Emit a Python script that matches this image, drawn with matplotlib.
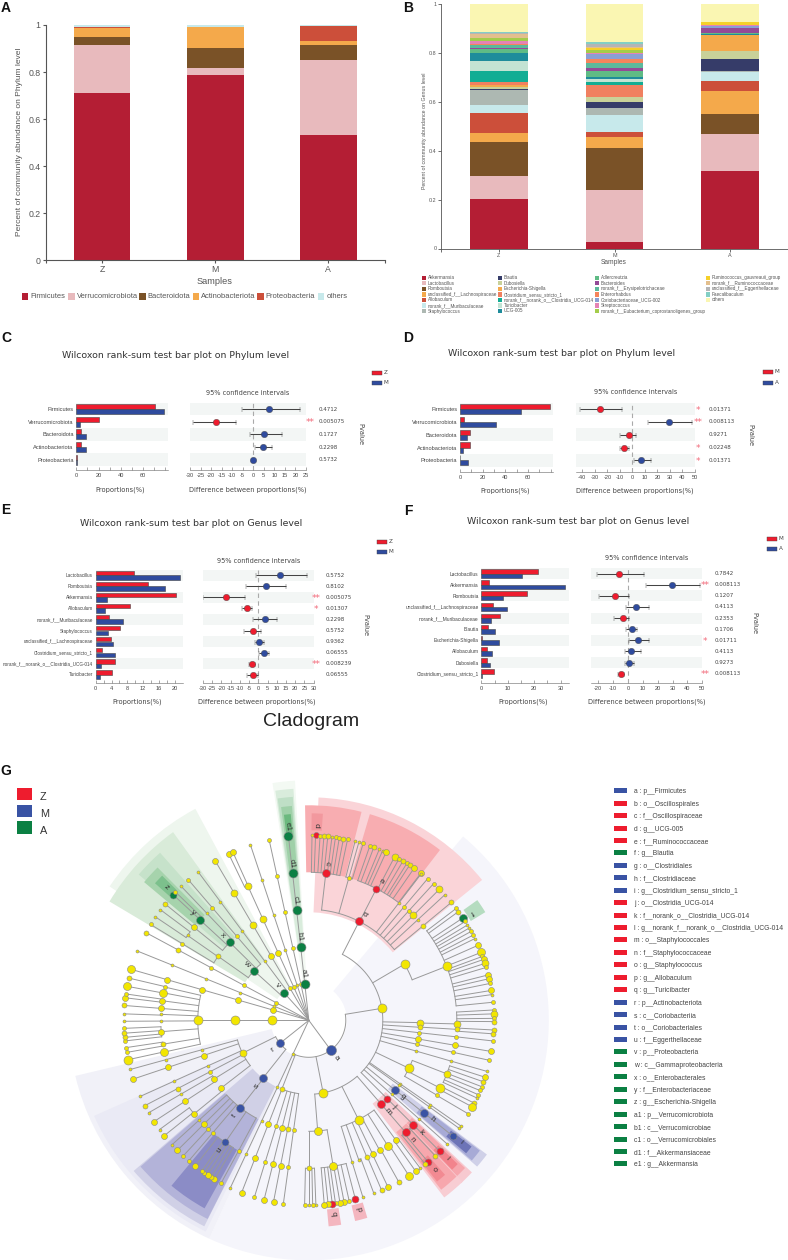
import numpy as np
import matplotlib
matplotlib.use("Agg")
import matplotlib.pyplot as plt
from matplotlib.patches import Rectangle, Wedge

plt.rcParams["font.family"] = ["Liberation Sans", "DejaVu Sans"]

W, H = 788, 1260
GREY = "#555555"

# panel A
samples = ["Z", "M", "A"]
phyla = ["Firmicutes", "Verrucomicrobiota", "Bacteroidota", "Actinobacteriota", "Proteobacteria", "others"]
phyla_colors = ["#b41e34", "#e8babd", "#7a5227", "#f4a94b", "#cc4f3a", "#c7e9eb"]
phyla_z = [0.712, 0.203, 0.036, 0.038, 0.001, 0.010]
phyla_m = [0.787, 0.029, 0.088, 0.086, 0.000, 0.010]
phyla_a = [0.534, 0.319, 0.061, 0.016, 0.064, 0.006]

# panel B
genera = ["Akkermansia", "Lactobacillus", "Romboutsia", "unclassified_f__Lachnospiraceae", "Allobaculum",
          "norank_f__Muribaculaceae", "Staphylococcus",
          "Blautia", "Dubosiella", "Escherichia-Shigella", "Clostridium_sensu_stricto_1",
          "norank_f__norank_o__Clostridia_UCG-014", "Turicibacter", "UCG-005",
          "Adlercreutzia", "Bacteroides", "norank_f__Erysipelotrichaceae", "Enterorhabdus",
          "Coriobacteriaceae_UCG-002", "Streptococcus", "norank_f__Eubacterium_coprostanoligenes_group",
          "Ruminococcus_gauvreauii_group", "norank_f__Ruminococcaceae", "unclassified_f__Eggerthellaceae",
          "Faecalibaculum", "others"]
genera_colors = ["#b41e34", "#e8babd", "#7a5227", "#f4a94b", "#cc4f3a", "#c7e9eb", "#adb8b2",
                 "#363c69", "#c9d199", "#f4a94b", "#f08060", "#12ad94", "#c3e3d3", "#1e8c9b",
                 "#5fbb85", "#944a97", "#5cb99c", "#f5845c", "#8a9fd4", "#e583b5", "#a4cc4a",
                 "#f5d02a", "#e3bf8d", "#b5b5b5", "#83cfc5", "#faf6b2"]
genera_top_z = [.204, .298, .434, .471, .556, .587, .649, .654, .662, .668, .680, .727, .768, .800,
                .817, .820, .832, .835, .838, .850, .860, .862, .878, .880, .885, 1.0]
genera_top_m = [.028, .240, .412, .455, .477, .544, .573, .600, .620, .620, .668, .680, .693, .703,
                .725, .740, .757, .775, .795, .800, .810, .820, .825, .835, .845, 1.0]
genera_top_a = [.319, .470, .550, .646, .686, .722, .724, .775, .807, .872, .872, .873, .874, .876,
                .880, .900, .902, .903, .908, .913, .916, .926, .927, .927, .928, 1.0]

# panel C
c_names = ["Firmicutes", "Verrucomicrobiota", "Bacteroidota", "Actinobacteriota", "Proteobacteria"]
c_red = [71, 20.8, 4, 3.8, 0.3]
c_blue = [79, 3, 9, 8.8, 0.3]
c_diff = [7.5, -17.7, 5.3, 4.7, 0]
c_low = [-5.5, -28.5, -1.5, 0.8, -0.4]
c_high = [22, -8, 13.5, 8.7, 0.4]
c_p = ["0.4712", "0.005075", "0.1727", "0.2298", "0.5732"]
c_stars = ["", "**", "", "", ""]

# panel D
d_names = c_names
d_red = [79, 3.3, 9, 8.5, 0.3]
d_blue = [54, 32, 6.5, 2.5, 6.8]
d_diff = [-25.5, 29, -2.7, -6.8, 6.7]
d_low = [-42, 12.5, -10, -10, 1]
d_high = [-8.5, 48, 3.2, -3, 14.5]
d_p = ["0.01371", "0.008113", "0.9271", "0.02248", "0.01371"]
d_stars = ["*", "**", "", "*", "*"]

# panel E
e_names = ["Lactobacillus", "Romboutsia", "Akkermansia", "Allobaculum", "norank_f__Muribaculaceae",
           "Staphylococcus", "unclassified_f__Lachnospiraceae", "Clostridium_sensu_stricto_1",
           "norank_f__norank_o__Clostridia_UCG-014", "Turicibacter"]
e_red = [9.7, 13.3, 20.4, 8.7, 3.3, 6.2, 3.9, 1.5, 4.9, 4.1]
e_blue = [21.2, 17.4, 2.9, 2.3, 6.8, 3.1, 4.4, 4.9, 1.3, 1.1]
e_diff = [11.7, 3.9, -17.8, -6.3, 3.5, -3, 0.5, 3.3, -3.5, -3]
e_low = [-1.5, -6.5, -30, -9, -2.8, -8, -2, 0.5, -5, -6]
e_high = [26.3, 15, -7.5, -3.2, 10.3, 1.5, 3.2, 6, -2, -0.2]
e_p = ["0.5752", "0.8102", "0.005075", "0.01307", "0.2298", "0.5752", "0.9362", "0.06555", "0.008239", "0.06555"]
e_stars = ["", "", "**", "*", "", "", "", "", "**", ""]

# panel F
f_names = ["Lactobacillus", "Akkermansia", "Romboutsia", "unclassified_f__Lachnospiraceae",
           "norank_f__Muribaculaceae", "Blautia", "Escherichia-Shigella", "Allobaculum", "Dubosiella",
           "Clostridium_sensu_stricto_1"]
f_red = [21.3, 2.9, 17.2, 4.4, 6.9, 2.5, 0.2, 2.3, 2.3, 4.8]
f_blue = [15.3, 31.8, 8.1, 9.7, 3.5, 5.3, 6.6, 4.1, 3.3, 0.3]
f_diff = [-6, 29.5, -9, 5.3, -3, 2.8, 6.5, 1.8, 1, -4.5]
f_low = [-21, 12, -19.5, -1.5, -9.5, -1, 0.8, -2, -2, -6.5]
f_high = [10.5, 48.5, 1, 14.5, 1, 6, 14.5, 8.5, 4.3, -2.5]
f_p = ["0.7842", "0.008113", "0.1207", "0.4113", "0.2353", "0.1706", "0.01711", "0.4113", "0.9273", "0.008113"]
f_stars = ["", "**", "", "", "", "", "*", "", "", "**"]

# panel G legend
clade_names = ["a : p__Firmicutes", "b : o__Oscillospirales", "c : f__Oscillospiraceae", "d : g__UCG-005",
               "e : f__Ruminococcaceae", "f : g__Blautia", "g : o__Clostridiales", "h : f__Clostridiaceae",
               "i : g__Clostridium_sensu_stricto_1", "j : o__Clostridia_UCG-014",
               "k : f__norank_o__Clostridia_UCG-014", "l : g__norank_f__norank_o__Clostridia_UCG-014",
               "m : o__Staphylococcales", "n : f__Staphylococcaceae", "o : g__Staphylococcus",
               "p : g__Allobaculum", "q : g__Turicibacter", "r : p__Actinobacteriota", "s : c__Coriobacteriia",
               "t : o__Coriobacteriales", "u : f__Eggerthellaceae", "v : p__Proteobacteria",
               "w : c__Gammaproteobacteria", "x : o__Enterobacterales", "y : f__Enterobacteriaceae",
               "z : g__Escherichia-Shigella", "a1 : p__Verrucomicrobiota", "b1 : c__Verrucomicrobiae",
               "c1 : o__Verrucomicrobiales", "d1 : f__Akkermansiaceae", "e1 : g__Akkermansia"]
clade_groups = "MZZZZAMMMZZZZZZZZMMMMAAAAAAAAAA"
RED, BLUE, GREEN = "#ee1c2e", "#3953a4", "#0b8043"
group_colors = {"Z": RED, "M": BLUE, "A": GREEN, "y": "#f2e600"}

# cladogram shading: start angle, end angle, inner radius, outer radius, colour
shade_start = [40, 204.5, 206, 206.9, 207, 209, 303.9, 300.8, 310.6, 310, 311.7, 351.3, 351.7, 352, 352.6, 353.1,
               2.5, -1, 16.5, 0.8, 127, 127.3, 127.8, 133, 133.4, 134, 136.4, 136.6, 138.6, 163.5, 171, 54.5]
shade_end = [204.5, 256.6, 246, 229.3, 229, 219.7, 331.8, 324.2, 318.4, 315.3, 314.6, 356.7, 356.2, 355.9, 355.5, 355,
             51, 14.2, 37.6, 3.9, 131, 130.7, 130.2, 137, 136.6, 136.2, 142.6, 142, 141.5, 167, 174.5, 58.5]
shade_inner = [38, 38, 74, 74, 111, 148, 38, 74, 111, 148, 186, 37, 74, 111, 148, 185,
               108, 148, 148, 190, 105, 142, 180, 105, 142, 180, 105, 142, 180, 190, 190, 190]
shade_outer = [240, 240, 235, 231, 223, 215, 240, 232, 224, 215, 206, 240, 232, 224, 215, 207,
               223, 215, 215, 207, 223, 215, 206, 223, 215, 207, 223, 215, 206, 206, 207, 207]
shade_color = ["#f5f5fb", "#f1f1f8", "#eaeaf5", "#d0d0e6", "#b3b3d9", "#8b8cc6",
               "#eef6ee", "#d9ebd9", "#c6e2ca", "#a6d3ac", "#7cc08c",
               "#f3f9f3", "#d9ecdc", "#bfdfc6", "#9fd0a8", "#6bb97e",
               "#fad4d8", "#f8adb1", "#f8adb1", "#f2989e",
               "#cfd0e8", "#a7aad6", "#6d74b7",
               "#f7c9d0", "#f6a6ad", "#f2838c", "#f8cdd3", "#f7a7ad", "#f28a92",
               "#f4b6bf", "#f4b6bf", "#b5dcc0"]


def N(angle, size, group="y", label=None, kids=()):
    return {"angle": angle, "size": size, "group": group, "label": label, "kids": list(kids)}


def L(*pairs):
    return [N(a, s) for a, s in pairs]


def chain(angle, sizes, group="y", labels=None, kids=()):
    # a run of nodes out along one angle
    node_kids = list(kids)
    for i in range(len(sizes) - 1, -1, -1):
        label = labels[i] if labels else None
        node_kids = [N(angle, sizes[i], group, label, node_kids)]
    return node_kids[0]


oscillospirales = N(27, 8, "Z", "b", [
    N(6.6, 8, "Z", "c", [N(2.1, 6, "Z", "d")] + L((1, 3), (3.5, 4), (4.7, 5), (5.9, 5), (7.2, 3), (8.3, 4), (9.5, 4),
                                                 (10.8, 5), (12.1, 4))),
    N(15.7, 4, kids=L((14.5, 3), (15.7, 3), (17.1, 4))),
    N(27.2, 7, "Z", "e", L((19.3, 4), (20.6, 5), (22.4, 3), (23.5, 3), (24.7, 6), (27.7, 7), (29.2, 4), (30.6, 5),
                           (32, 4), (33, 5), (34.7, 6), (37.3, 6))),
    chain(37.5, [3, 3]), chain(40, [4, 4]), chain(42.4, [4, 4]), chain(44.9, [7, 7]), chain(47.3, [3, 3]),
    chain(50.4, [5, 5]),
])
order_59 = N(59.6, 9, kids=[N(68.6, 9, kids=L((52.8, 4), (54, 5)) + [N(56.4, 8, "A", "f")] + L(
    (57.7, 4), (59, 3), (60.1, 3), (61.3, 4), (62.6, 4), (63.8, 3), (66.1, 6), (68.5, 8), (69.8, 4), (70.8, 6),
    (72.1, 7), (73.4, 4), (75.8, 6), (77, 6), (78.5, 4), (80.7, 6), (82, 3), (84.4, 4)))])
order_91 = N(91.2, 7, kids=[N(91.4, 7, kids=L((86.8, 4), (88, 7), (89.4, 4), (90.4, 5)))])
order_93 = N(93.6, 5, kids=[N(93.5, 5, kids=L((93, 5), (94.2, 5)))])
order_115 = N(115.6, 9, kids=[
    N(111.2, 7, kids=L((107.9, 6), (109.4, 5), (111, 4), (112.3, 4), (113.7, 4), (114.8, 3))),
    N(117.3, 9, kids=L((116.6, 5), (117.9, 8))),
    N(120.3, 4, kids=L((120.4, 4))),
])
clostridiales = N(129, 8, "M", "g", [N(128.9, 8, "M", "h", [N(128.8, 7, "M", "i")])])
order_131 = chain(131.8, [3, 3, 3])
ucg014 = N(135, 7, "Z", "j", [N(135, 8, "Z", "k", [N(135, 7, "Z", "l")] + L((137, 5)))])
staph = N(139.2, 8, "Z", "m", [N(139.2, 8, "Z", "n", [N(139.9, 7, "Z", "o")] + L((141, 5)))])
clostridia = N(80.7, 9, kids=[
    oscillospirales, order_59, order_91, order_93,
    chain(96.4, [4, 4, 4]), chain(99.7, [6, 6, 6]), chain(102.5, [4, 4, 4]), chain(106, [3, 3, 3]),
    order_115, chain(124.8, [3, 3, 3]), chain(125.7, [3, 3, 3]), clostridiales, order_131, ucg014,
])
order_153 = N(153.4, 9, kids=[
    N(144, 6, kids=L((143, 3), (144.7, 6))), N(147.8, 8, kids=L((147.2, 8))), N(151.4, 6, kids=L((150.9, 5))),
    N(154.5, 6, kids=L((154.6, 6))), N(157, 5, kids=L((156.8, 5))), N(160.3, 3, kids=L((159.4, 3))),
    N(163, 3, kids=L((163, 3))),
])
order_175 = N(175.4, 8, kids=[
    N(170.5, 8, kids=[N(165.4, 7, "Z", "p")] + L((167.4, 4), (169, 6), (170.3, 6), (171.7, 4)) + [N(172.7, 7, "Z", "q")]
      + L((174, 6), (175.2, 6))),
    N(180, 5, kids=L((177.8, 3), (178.8, 4), (180, 3), (181.3, 4))),
])
bacilli = N(168.8, 9, kids=[order_175, order_153, staph])
class_201 = N(201.4, 5, kids=[chain(201.3, [6, 6, 6]), chain(197.1, [4, 4, 4]), chain(194, [6, 6, 6]),
                              chain(191, [5, 6, 6]), chain(187.9, [4, 4, 4])])
firmicutes = N(143.6, 10, "M", "a", [clostridia, bacilli, class_201])

coriobacteriales = N(218, 8, "M", "t", [
    chain(208.3, [4, 4]),
    N(214.4, 7, "M", "u", L((210.7, 6), (211.9, 5), (213.2, 6), (214.4, 4), (215.4, 4), (217.9, 6))),
    chain(220.5, [4, 4]), chain(222.8, [4, 4]), chain(225.3, [6, 6]), chain(227.7, [3, 3]),
])
coriobacteriia = N(218.4, 8, "M", "s", [coriobacteriales])
class_243 = N(243.6, 7, kids=[
    N(232.3, 6, kids=[N(230.8, 6, kids=L((231.4, 6), (233.8, 3)))]),
    N(238.2, 6, kids=[chain(236.8, [6, 6]), chain(240, [3, 3])]),
    chain(242.5, [4, 5, 5]), chain(245.7, [3, 3, 3]), chain(251.5, [6, 6, 6]), chain(254.6, [3, 3, 3]),
])
actinobacteriota = N(231.4, 8, "M", "r", [coriobacteriia, class_243])

order_270 = N(270, 9, kids=[
    N(257.6, 8, kids=L((257.7, 9))), N(260.7, 5, kids=L((260, 4), (261.5, 4))),
    N(265.6, 6, kids=L((263.6, 4), (264.7, 5), (266, 5), (267.5, 4))), N(269.7, 3, kids=L((269.7, 3))),
    N(272.3, 3, kids=L((272, 3))), N(274.6, 6, kids=L((274.6, 5))), N(277.6, 6, kids=L((277, 6), (278.2, 4))),
    N(280.7, 8, kids=L((280.6, 8))), N(283, 4, kids=L((283.2, 5))),
])
bacteroidota = N(270, 9, kids=[N(270, 9, kids=[order_270])])

enterobacterales = N(314.6, 8, "A", "x", [
    chain(309, [6, 5]),
    N(312.7, 8, "A", "y", [N(312.8, 7, "A", "z")] + L((313.9, 4))),
    chain(316.4, [3, 3]),
])
gamma = N(312.1, 8, "A", "w", [
    N(305.2, 5, kids=[chain(301.2, [4, 4]), N(305, 3, kids=L((304, 3), (306.7, 3)))]),
    enterobacterales,
    chain(319.4, [4, 4, 4]),
])
proteobacteria = N(318.1, 8, "A", "v", [gamma, chain(323.3, [3, 3, 3, 3])])
verrucomicrobiota = chain(353.7, [9, 9, 9, 9, 9], "A", ["a1", "b1", "c1", "d1", "e1"])

phyla_tree = [
    firmicutes, chain(205.1, [3, 3, 3, 3, 3]), actinobacteriota, bacteroidota,
    chain(286, [6, 6, 6, 6, 8]), chain(292, [3, 3, 3, 3, 3]), chain(298.3, [4, 4, 4, 5, 5]), proteobacteria,
    chain(329.6, [4, 6, 7, 7, 6]),
    chain(335.6, [4, 6, 7, 7], kids=L((334.3, 6), (335.7, 6))),
    chain(341.6, [3, 3, 3, 3, 3]), chain(347.6, [4, 4, 4, 4, 4]), verrucomicrobiota,
]

fig = plt.figure(figsize=(W / 100, H / 100), dpi=100)


def px_axes(left, top, right, bottom, **kw):
    return fig.add_axes([left / W, 1 - bottom / H, (right - left) / W, (bottom - top) / H], **kw)


# cladogram axes sit underneath everything, origin at the tree centre
CX, CY, STEP = 308.8, 1020.3, 37
clad = fig.add_axes([0, 0, 1, 1], zorder=1)
clad.set_xlim(-CX, W - CX)
clad.set_ylim(-(H - CY), CY)
clad.axis("off")

# overlay in picture pixels for the loose text
ov = fig.add_axes([0, 0, 1, 1], zorder=10)
ov.set_xlim(0, W)
ov.set_ylim(H, 0)
ov.axis("off")
ov.patch.set_alpha(0)


def stacked(left, top, right, bottom, columns, colors, fs, lw=0.8, pad=2):
    ax = px_axes(left, top, right, bottom, zorder=2)
    base = np.zeros(3)
    for i, color in enumerate(colors):
        vals = np.array([c[i] for c in columns])
        ax.bar(range(3), vals, 0.5, bottom=base, color=color, linewidth=0)
        base += vals
    ax.set_xlim(-0.5, 2.5)
    ax.set_ylim(0, 1)
    ax.set_xticks(range(3), samples)
    ax.set_xticks([-0.5, 2.5], minor=True)
    ax.set_yticks([0, 0.2, 0.4, 0.6, 0.8, 1], ["0", "0.2", "0.4", "0.6", "0.8", "1"])
    ax.tick_params(which="both", labelsize=fs, colors=GREY, length=2.5, width=lw, pad=pad)
    for side in ["top", "right"]:
        ax.spines[side].set_visible(False)
    for side in ["left", "bottom"]:
        ax.spines[side].set_color(GREY)
        ax.spines[side].set_linewidth(lw)
    return ax


stacked(45.5, 25, 385, 260.5, [phyla_z, phyla_m, phyla_a], phyla_colors, 6.3, pad=1)
ov.text(214, 282, "Samples", fontsize=6.6, color=GREY, ha="center", va="center")
ov.text(19.5, 142, "Percent of community abundance on Phylum level", fontsize=6, color=GREY,
        rotation=90, ha="center", va="center")
legend_a_x = [21.7, 68.3, 139.3, 192.7, 257.3, 317.7]
for x, name, color in zip(legend_a_x, phyla, phyla_colors):
    ov.add_patch(Rectangle((x, 293), 6.7, 7, color=color, lw=0))
    ov.text(x + 8.5, 296.5, name, fontsize=5.4, color=GREY, va="center")

b_columns = [np.diff([0] + genera_top_z), np.diff([0] + genera_top_m), np.diff([0] + genera_top_a)]
stacked(441, 4, 788, 248.5, b_columns, genera_colors, 3.9, lw=0.6, pad=0.5)
ov.text(614, 262.5, "Samples", fontsize=4.8, color=GREY, ha="center", va="center")
ov.text(425, 131, "Percent of community abundance on Genus level", fontsize=3.8, color=GREY,
        rotation=90, ha="center", va="center")
legend_b_x = [424, 500, 597, 708]
legend_b_rows = [7, 7, 7, 5]
k = 0
for x, n_rows in zip(legend_b_x, legend_b_rows):
    for r in range(n_rows):
        y = 277.7 + r * 5.55
        ov.add_patch(Rectangle((x - 2, y - 2.2), 4.4, 4.4, color=genera_colors[k], lw=0))
        ov.text(x + 4, y, genera[k], fontsize=3.3, color=GREY, va="center")
        k += 1


def wilcoxon(box_bar, box_ci, row_top, row_h, spine, names, red, blue, diff, low, high, pvals, stars,
             bar_lim, bar_major, bar_minor, ci_lim, ci_ticks, labels, title_xy, conf_xy, prop_xy, diff_xy,
             p_x, star_x, pv_xy, leg_x, leg_y, groups, name_fs=4.1):
    n = len(names)
    rows = np.arange(n)
    ybot = (spine - row_top) / row_h

    ax = px_axes(box_bar[0], row_top, box_bar[1], spine, zorder=2)
    for i in rows[::2]:
        ax.axhspan(i, i + 1, color="#f3f6f5", lw=0)
    ax.barh(rows + 0.3, red, 0.4, color=RED, edgecolor="#444444", linewidth=0.4)
    ax.barh(rows + 0.7, blue, 0.4, color="#2f4b9e", edgecolor="#444444", linewidth=0.4)
    ax.set_xlim(*bar_lim)
    ax.set_ylim(ybot, 0)
    ax.set_yticks(rows + 0.5, names)
    ax.set_xticks(bar_major, [str(v) for v in bar_major])
    ax.set_xticks(bar_minor, minor=True)
    ax.tick_params(axis="y", length=0, labelsize=name_fs, labelcolor="#444444", pad=2)
    ax.tick_params(axis="x", which="both", direction="in", length=2, width=0.4, color="#666666",
                   labelsize=4.1, labelcolor="#444444", pad=2)

    ci = px_axes(box_ci[0], row_top, box_ci[1], spine, zorder=2)
    for i in rows[::2]:
        ci.axhspan(i, i + 1, color="#f3f6f5", lw=0)
    ci.axvline(0, color="#aaaaaa", lw=0.8, ls=(0, (4, 3)))
    for i in rows:
        color = RED if diff[i] < 0 else "#2f4b9e"
        ci.errorbar(diff[i], i + 0.5, xerr=[[diff[i] - low[i]], [high[i] - diff[i]]], fmt="o", ms=4.6, mfc=color,
                    mec="#444444", mew=0.3, ecolor="#444444", elinewidth=0.75, capsize=1.8, capthick=0.75)
    ci.set_xlim(*ci_lim)
    ci.set_ylim(ybot, 0)
    ci.set_yticks([])
    ci.set_xticks(ci_ticks, [str(v) for v in ci_ticks])
    ci.tick_params(axis="x", direction="in", length=2, width=0.4, color="#666666",
                   labelsize=4.1, labelcolor="#444444", pad=2)

    for a in (ax, ci):
        for side in ["top", "right", "left"]:
            a.spines[side].set_visible(False)
        a.spines["bottom"].set_linewidth(0.4)
        a.spines["bottom"].set_color("#666666")

    ov.text(*title_xy, labels, fontsize=6.75, color="#333333", ha="center", va="center", family="DejaVu Sans")
    ov.text(*conf_xy, "95% confidence intervals", fontsize=4.7, color="#444444", ha="center", va="center",
            family="DejaVu Sans")
    ov.text(*prop_xy, "Proportions(%)", fontsize=4.8, color="#444444", ha="center", va="center", family="DejaVu Sans")
    ov.text(*diff_xy, "Difference between proportions(%)", fontsize=4.8, color="#444444", ha="center", va="center",
            family="DejaVu Sans")
    ov.text(*pv_xy, "Pvalue", fontsize=4.8, color="#444444", rotation=270, ha="center", va="center",
            family="DejaVu Sans")
    for i in rows:
        y = row_top + (i + 0.5) * row_h
        ov.text(p_x, y, pvals[i], fontsize=4, color="#444444", va="center", family="DejaVu Sans")
        if stars[i]:
            ov.text(star_x, y + 1, stars[i], fontsize=6.4, color="#f26a7a", ha="center", va="center",
                    family="DejaVu Sans")
    for y, group, color in zip(leg_y, groups, [RED, "#2f4b9e"]):
        ov.add_patch(Rectangle((leg_x, y - 2), 10, 4, facecolor=color, edgecolor="#444444", lw=0.3))
        ov.text(leg_x + 12, y - 0.5, group, fontsize=4.1, color="#444444", va="center", family="DejaVu Sans")


wilcoxon((76.3, 167.7), (190, 306), 402.7, 12.67, 470, c_names, c_red, c_blue, c_diff, c_low, c_high, c_p, c_stars,
         (0, 82), [0, 20, 40, 60], [10, 30, 50, 70, 80], (-30, 25), list(range(-30, 30, 5)),
         "Wilcoxon rank-sum test bar plot on Phylum level", (176, 355), (248, 393), (120, 490), (248, 490),
         319, 310, (360, 434), 372, (373, 383), ("Z", "M"))
wilcoxon((460, 553), (576, 695), 402.7, 12.8, 472, d_names, d_red, d_blue, d_diff, d_low, d_high, d_p, d_stars,
         (0, 82), [0, 20, 40, 60], [10, 30, 50, 70, 80], (-45, 50), list(range(-40, 60, 10)),
         "Wilcoxon rank-sum test bar plot on Phylum level", (562, 353), (636, 392), (505, 491), (635, 491),
         708.7, 698, (750, 435), 763, (372, 383), ("M", "A"))
wilcoxon((95.7, 182.7), (203, 313.7), 570, 11, 683, e_names, e_red, e_blue, e_diff, e_low, e_high, e_p, e_stars,
         (0, 22), [0, 4, 8, 12, 16, 20], [2, 6, 10, 14, 18], (-30, 30), list(range(-30, 35, 5)),
         "Wilcoxon rank-sum test bar plot on Genus level", (190.7, 524), (258.7, 560.7), (137, 702), (257, 702),
         326, 316, (365, 625), 377, (542, 552), ("Z", "M"), name_fs=3.35)
wilcoxon((481.3, 569.3), (590.7, 702.3), 568, 11.13, 683, f_names, f_red, f_blue, f_diff, f_low, f_high, f_p, f_stars,
         (0, 33.3), [0, 10, 20, 30], [5, 15, 25], (-25, 50), list(range(-20, 60, 10)),
         "Wilcoxon rank-sum test bar plot on Genus level", (578, 521), (647, 558), (523, 702), (647, 702),
         715, 705, (754, 623), 767, (539, 549), ("M", "A"), name_fs=3.55)

# panel letters
for letter, x, y in [("A", 6, 8), ("B", 408, 8), ("C", 6, 338), ("D", 408, 338), ("E", 6, 510), ("F", 408, 511),
                     ("G", 6, 771)]:
    ov.text(x, y, letter, fontsize=10, fontweight="bold", color="#111111", ha="center", va="center")
ov.text(311, 722, "Cladogram", fontsize=14, color="#222222", ha="center", va="center")

# cladogram shading
for a0, a1, r0, r1, color in zip(shade_start, shade_end, shade_inner, shade_outer, shade_color):
    clad.add_patch(Wedge((0, 0), r1, 90 - a1, 90 - a0, width=r1 - r0, facecolor=color, edgecolor="none", zorder=1))


def polar(angle, r):
    rad = np.radians(angle)
    return r * np.sin(rad), r * np.cos(rad)


def draw_tree(node, level):
    angle = node["angle"]
    x, y = polar(np.array([angle, angle]), np.array([STEP * (level - 1), STEP * level]))
    clad.plot(x, y, color="#999999", lw=0.7, zorder=2, solid_capstyle="round")
    if node["kids"]:
        angles = [k["angle"] for k in node["kids"]] + [angle]
        arc = np.linspace(min(angles), max(angles), 40)
        ax_, ay_ = polar(arc, STEP * level)
        clad.plot(ax_, ay_, color="#999999", lw=0.7, zorder=2)
    d = node["size"] * 0.72
    clad.scatter(*polar(angle, STEP * level), s=d * d, color=group_colors[node["group"]], edgecolors="#888888",
                 linewidths=0.4, zorder=3)
    if node["label"]:
        lx, ly = polar(angle, STEP * level + 10)
        rot = 90 - angle if 90 < angle <= 180 else -90 - angle
        clad.text(lx, ly, node["label"], fontsize=6, color="#333333", rotation=rot, rotation_mode="anchor",
                  ha="center", va="center", zorder=4)
    for kid in node["kids"]:
        draw_tree(kid, level + 1)


for phylum in phyla_tree:
    draw_tree(phylum, 1)

# group legend, top left of G
for y, group in zip([787.7, 804.7, 821.3], ["Z", "M", "A"]):
    ov.add_patch(Rectangle((17, y), 15, 12.7, color=group_colors[group], lw=0))
    ov.text(40, y + 9.5, group, fontsize=7.8, color="#333333", va="center")

# clade legend
for i, (name, group) in enumerate(zip(clade_names, clade_groups)):
    y = 790.7 + i * 12.44
    ov.add_patch(Rectangle((614, y - 2.5), 12.7, 5, color=group_colors[group], lw=0))
    t = ov.text(634, y + 1, name, fontsize=4.9, color="#444444", va="center")
    t.set_clip_path(Rectangle((600, 700), 177, 500, transform=ov.transData))

fig.savefig("out.png", dpi=100)
